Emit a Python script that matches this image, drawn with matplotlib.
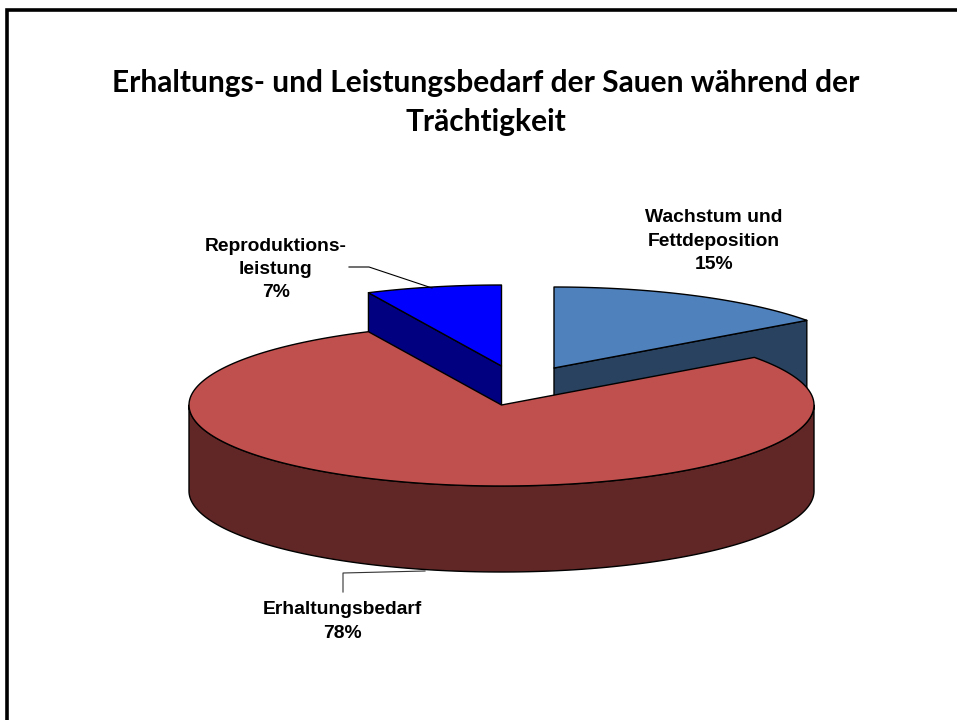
import numpy as np
import matplotlib
matplotlib.use("Agg")
import matplotlib.pyplot as plt

# Daten
labels = ["Wachstum und\nFettdeposition\n15%", "Erhaltungsbedarf\n78%", "Reproduktions-\nleistung\n7%"]
anteile = [15, 78, 7]
title = "Erhaltungs- und Leistungsbedarf der Sauen während der\nTrächtigkeit"

farben_oben = ["#4F81BD", "#C0504D", "#0000FF"]
farben_seite = ["#284260", "#602726", "#000080"]

# Geometrie in Pixeln
A = 312.5   # Halbachse x
B = 81      # Halbachse y
H = 86      # Hoehe der Torte
zentren = [(554, 368), (501.5, 405), (501.5, 366)]


def rand(cx, cy, t0, t1):
    # Winkel im Uhrzeigersinn ab oben
    t = np.deg2rad(np.linspace(t0, t1, 200))
    return cx + A * np.sin(t), cy - B * np.cos(t)


fig = plt.figure(figsize=(9.57, 7.2), dpi=100)
ax = fig.add_axes([0, 0, 1, 1])
ax.set_xlim(0, 957)
ax.set_ylim(720, 0)
ax.set_axis_off()

# Startwinkel aus den Anteilen
winkel = np.cumsum([0] + anteile) * 3.6
edge = dict(edgecolor="black", linewidth=1.0, joinstyle="round")

# hintere Stuecke zuerst, rotes Stueck zuletzt
for i in [0, 2, 1]:
    t0, t1 = winkel[i], winkel[i + 1]
    cx, cy = zentren[i]
    x, y = rand(cx, cy, t0, t1)
    if i == 1:
        # Mantel vorne
        xm, ym = rand(cx, cy, 90, 270)
        ax.fill(np.r_[xm, xm[::-1]], np.r_[ym, ym[::-1] + H], facecolor=farben_seite[i], **edge)
    elif i == 0:
        # Schnittflaeche zur Mitte und Mantel
        ax.fill([cx, x[-1], x[-1], cx], [cy, y[-1], y[-1] + H, cy + H], facecolor=farben_seite[i], **edge)
    else:
        ax.fill([cx, x[0], x[0], cx], [cy, y[0], y[0] + H, cy + H], facecolor=farben_seite[i], **edge)
    ax.fill(np.r_[cx, x], np.r_[cy, y], facecolor=farben_oben[i], **edge)

# Fuehrungslinien
ax.plot([349, 369, 432], [267, 267, 288], color="black", lw=0.8)
ax.plot([343, 343, 425], [592, 573, 571], color="#333333", lw=0.8)

lab_font = dict(family="Liberation Sans", fontweight="bold", fontsize=13.9, ha="center", va="center",
                linespacing=1.48, color="black")
ax.text(714, 241, labels[0], **lab_font)
ax.text(342.5, 621.5, labels[1], **lab_font)
ax.text(276, 269.5, labels[2], **lab_font)

ax.text(485.5, 102.5, title, family="Lato", fontweight="bold", fontsize=21.5, ha="center", va="center",
        linespacing=1.45, color="black")

# Rahmen nur links und oben
ax.plot([6.5, 6.5, 957], [720, 9.5, 9.5], color="black", lw=2.6, solid_joinstyle="miter")

fig.savefig("out.png", dpi=100)
